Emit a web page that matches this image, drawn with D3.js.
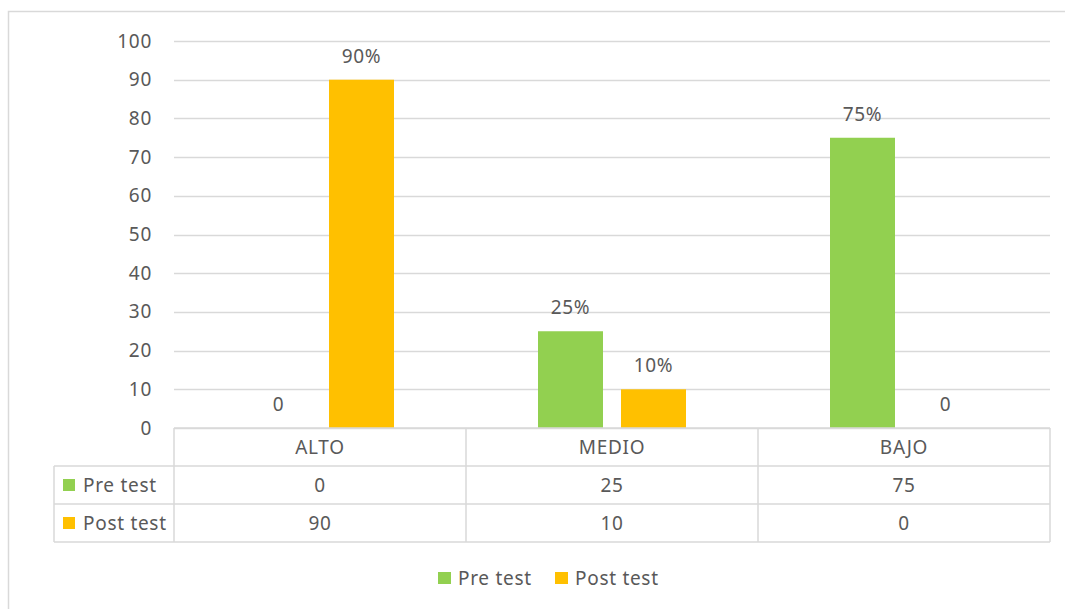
<!DOCTYPE html>
<html><head><meta charset="utf-8">
<script src="https://cdn.jsdelivr.net/npm/d3@7"></script>
<style>body{margin:0;background:#fff}svg{display:block}text{letter-spacing:0.7px}</style>
</head><body>
<script>
const categories = ["ALTO", "MEDIO", "BAJO"];
const seriesNames = ["Pre test", "Post test"];
const preValues = [0, 25, 75];
const postValues = [90, 10, 0];
const preLabels = ["0", "25%", "75%"];
const postLabels = ["90%", "10%", "0"];
const yTicks = [0, 10, 20, 30, 40, 50, 60, 70, 80, 90, 100];
const colors = ["#92D050", "#FFC000"];

const W = 1065, H = 609;
const font = "'Noto Sans', sans-serif";
const fs = 19;
const txt = "#595959", grid = "#d9d9d9";
const svg = d3.select("body").append("svg").attr("width", W).attr("height", H);

svg.append("rect").attr("x", 8.5).attr("y", 11.5).attr("width", 1100).attr("height", 700)
  .attr("fill", "none").attr("stroke", grid).attr("stroke-width", 1.5);

const pLeft = 174, pRight = 1050, pTop = 41, pBottom = 428;
const y = d3.scaleLinear().domain([0, 100]).range([pBottom, pTop]);
const x0 = d3.scaleBand().domain(categories).range([pLeft, pRight]).paddingInner(0).paddingOuter(0);
const groupW = 148;
const x1 = d3.scaleBand().domain(seriesNames).range([0, groupW]).paddingInner(0.217).paddingOuter(0);
const gOff = (x0.bandwidth() - groupW) / 2;

// gridlines
svg.append("g").selectAll("line").data(yTicks).join("line")
  .attr("x1", pLeft).attr("x2", pRight)
  .attr("y1", d => Math.round(y(d)) + 0.5).attr("y2", d => Math.round(y(d)) + 0.5)
  .attr("stroke", grid).attr("stroke-width", 1.5);

// y axis labels
const yAxis = d3.axisLeft(y).tickValues(yTicks).tickSize(0).tickPadding(22);
const ya = svg.append("g").attr("transform", `translate(${pLeft},0)`).call(yAxis);
ya.select(".domain").remove();
ya.selectAll("text").attr("fill", txt).style("font-family", font).style("font-size", fs + "px");

const data = categories.map((c, i) => ({
  cat: c,
  vals: [
    { s: seriesNames[0], v: preValues[i], lab: preLabels[i], col: colors[0] },
    { s: seriesNames[1], v: postValues[i], lab: postLabels[i], col: colors[1] }
  ]
}));

const groups = svg.append("g").selectAll("g").data(data).join("g")
  .attr("transform", d => `translate(${x0(d.cat) + gOff},0)`);
groups.selectAll("rect").data(d => d.vals).join("rect")
  .attr("x", d => x1(d.s)).attr("width", x1.bandwidth())
  .attr("y", d => y(d.v)).attr("height", d => y(0) - y(d.v))
  .attr("fill", d => d.col);
groups.selectAll("text").data(d => d.vals).join("text")
  .attr("x", d => x1(d.s) + x1.bandwidth() / 2)
  .attr("y", d => y(d.v) - 17)
  .attr("text-anchor", "middle").attr("fill", txt)
  .style("font-family", font).style("font-size", fs + "px")
  .text(d => d.lab);

// data table
const tLeft = 54, rowH = 38;
const rows = [pBottom, pBottom + rowH, pBottom + 2 * rowH, pBottom + 3 * rowH];
const tg = svg.append("g").attr("stroke", grid).attr("stroke-width", 1.5).attr("fill", "none");
tg.append("line").attr("x1", pLeft).attr("x2", pRight).attr("y1", rows[0]).attr("y2", rows[0]);
[1, 2, 3].forEach(r => {
  tg.append("line").attr("x1", tLeft).attr("x2", pRight).attr("y1", rows[r]).attr("y2", rows[r]);
});
tg.append("line").attr("x1", tLeft).attr("x2", tLeft).attr("y1", rows[1]).attr("y2", rows[3]);
categories.forEach(c => {
  tg.append("line").attr("x1", x0(c)).attr("x2", x0(c)).attr("y1", rows[0]).attr("y2", rows[3]);
});
tg.append("line").attr("x1", pRight).attr("x2", pRight).attr("y1", rows[0]).attr("y2", rows[3]);

const tt = svg.append("g").attr("fill", txt).style("font-family", font).style("font-size", fs + "px");
categories.forEach((c, i) => {
  const cx = x0(c) + x0.bandwidth() / 2;
  tt.append("text").attr("x", cx).attr("y", rows[0] + rowH / 2).attr("dy", "0.35em").attr("text-anchor", "middle").text(c);
  tt.append("text").attr("x", cx).attr("y", rows[1] + rowH / 2).attr("dy", "0.35em").attr("text-anchor", "middle").text(preValues[i]);
  tt.append("text").attr("x", cx).attr("y", rows[2] + rowH / 2).attr("dy", "0.35em").attr("text-anchor", "middle").text(postValues[i]);
});
seriesNames.forEach((s, i) => {
  const cy = rows[1 + i] + rowH / 2;
  svg.append("rect").attr("x", 63).attr("y", cy - 6).attr("width", 12).attr("height", 12).attr("fill", colors[i]);
  tt.append("text").attr("x", 83).attr("y", cy).attr("dy", "0.35em").text(s);
});

// bottom legend
const legX = [438, 555];
seriesNames.forEach((s, i) => {
  svg.append("rect").attr("x", legX[i]).attr("y", 572).attr("width", 13).attr("height", 12).attr("fill", colors[i]);
  tt.append("text").attr("x", legX[i] + 20).attr("y", 578).attr("dy", "0.35em").text(s);
});
</script>
</body></html>
